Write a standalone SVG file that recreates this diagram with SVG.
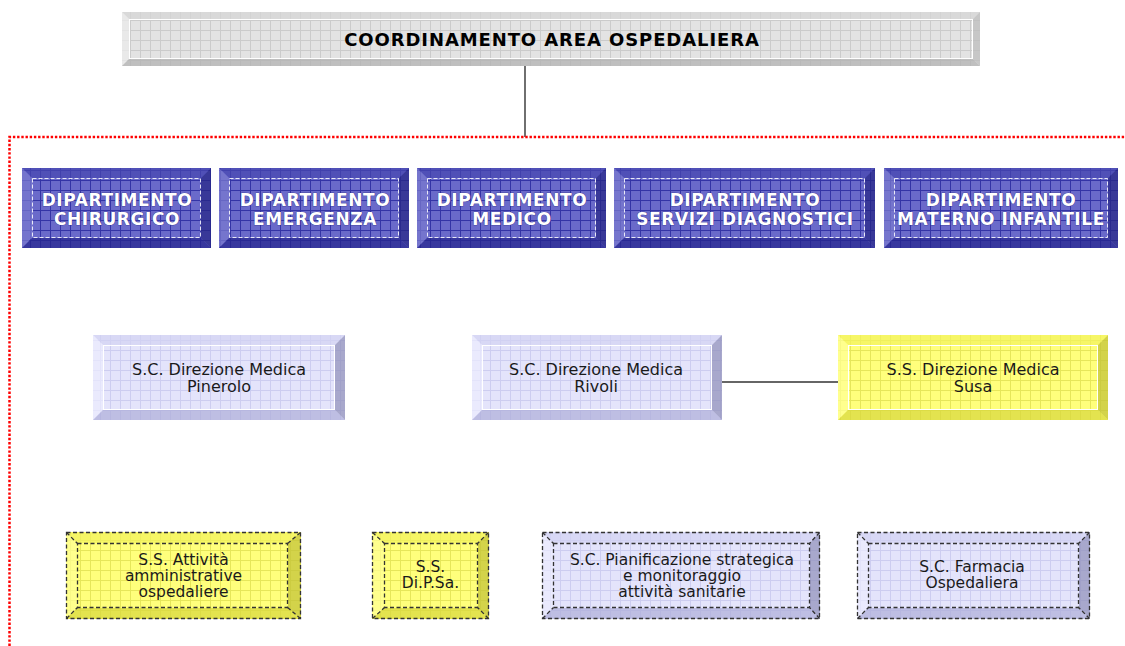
<svg xmlns="http://www.w3.org/2000/svg" width="1125" height="646" viewBox="0 0 1125 646">
<defs>
<pattern id="gGray" width="10" height="10" patternUnits="userSpaceOnUse"><rect width="10" height="10" fill="#e3e3e3"/><path d="M0 0.5H10M0.5 0V10" stroke="#cbcbcb" stroke-width="1"/></pattern>
<pattern id="gBlue" width="10" height="10" patternUnits="userSpaceOnUse"><rect width="10" height="10" fill="#6a6aca"/><path d="M0 0.5H10M0.5 0V10" stroke="#3434a6" stroke-width="1"/></pattern>
<pattern id="gLav" width="10" height="10" patternUnits="userSpaceOnUse"><rect width="10" height="10" fill="#e4e4fb"/><path d="M0 0.5H10M0.5 0V10" stroke="#cdcdf0" stroke-width="1"/></pattern>
<pattern id="gYel" width="10" height="10" patternUnits="userSpaceOnUse"><rect width="10" height="10" fill="#ffff7c"/><path d="M0 0.5H10M0.5 0V10" stroke="#e6e65a" stroke-width="1"/></pattern>
</defs>
<style>
.gray{fill:url(#gGray)} .blue{fill:url(#gBlue)} .lav{fill:url(#gLav)} .yel{fill:url(#gYel)}
.bv{opacity:0.72}
.gT{fill:#d6d6d6}.gL{fill:#ececec}.gB{fill:#b2b2b2}.gR{fill:#bcbcbc}
.bT{fill:#4646b0}.bL{fill:#7a7acf}.bB{fill:#24248e}.bR{fill:#262685}
.lT{fill:#d2d2f3}.lL{fill:#ececfd}.lB{fill:#afafd9}.lR{fill:#9090ba}
.yT{fill:#f2f25e}.yL{fill:#ffff96}.yB{fill:#d8d83e}.yR{fill:#c2c238}
.hl{fill:none;stroke:#ffffff;stroke-width:1}
.wd{fill:none;stroke:#ffffff;stroke-width:1;stroke-dasharray:4 2;opacity:0.85}
.dd{fill:none;stroke:#333333;stroke-width:1.3;stroke-dasharray:4 2.5}
.t{font-family:"DejaVu Sans","Liberation Sans",sans-serif;font-size:16px;fill:#1a1a1a;text-anchor:middle}
.ts{font-size:15.5px}
.dt{font-family:"DejaVu Sans","Liberation Sans",sans-serif;font-size:17px;font-weight:bold;fill:#ffffff;text-anchor:middle;letter-spacing:0.6px;stroke:#22227a;stroke-width:0.6;paint-order:stroke}
.tt{font-family:"DejaVu Sans","Liberation Sans",sans-serif;font-size:18px;font-weight:bold;fill:#000000;text-anchor:middle;letter-spacing:0.9px}
.conn{fill:none;stroke:#333333;stroke-width:1.4}
.red{fill:none;stroke:#ff0000;stroke-width:2.5;stroke-dasharray:2.4 1.8}
</style>
<rect width="1125" height="646" fill="#ffffff"/>

<g id="connectors">
<path class="conn" d="M525 66V137"/>
<path class="conn" d="M722 382H838"/>
<path class="red" d="M9.5 646V137H1125"/>
</g>

<g id="coordinamento">
<rect class="gray" x="122" y="12" width="858" height="54"/>
<polygon class="bv gT" points="122,12 980,12 973,19 129,19"/>
<polygon class="bv gL" points="122,12 129,19 129,59 122,66"/>
<polygon class="bv gB" points="122,66 129,59 973,59 980,66"/>
<polygon class="bv gR" points="980,12 980,66 973,59 973,19"/>
<rect class="hl" x="129.5" y="19.5" width="843" height="39"/>
<text class="tt" x="552" y="46">COORDINAMENTO AREA OSPEDALIERA</text>
</g>

<g id="dip-chirurgico">
<rect class="blue" x="22" y="168" width="189" height="80"/>
<polygon class="bv bT" points="22,168 211,168 201,178 32,178"/>
<polygon class="bv bL" points="22,168 32,178 32,238 22,248"/>
<polygon class="bv bB" points="22,248 32,238 201,238 211,248"/>
<polygon class="bv bR" points="211,168 211,248 201,238 201,178"/>
<rect class="wd" x="32.5" y="178.5" width="168" height="59"/>
<text class="dt" x="117" y="206">DIPARTIMENTO</text>
<text class="dt" x="117" y="225">CHIRURGICO</text>
</g>

<g id="dip-emergenza">
<rect class="blue" x="219" y="168" width="190" height="80"/>
<polygon class="bv bT" points="219,168 409,168 399,178 229,178"/>
<polygon class="bv bL" points="219,168 229,178 229,238 219,248"/>
<polygon class="bv bB" points="219,248 229,238 399,238 409,248"/>
<polygon class="bv bR" points="409,168 409,248 399,238 399,178"/>
<rect class="wd" x="229.5" y="178.5" width="169" height="59"/>
<text class="dt" x="315" y="206">DIPARTIMENTO</text>
<text class="dt" x="315" y="225">EMERGENZA</text>
</g>

<g id="dip-medico">
<rect class="blue" x="417" y="168" width="189" height="80"/>
<polygon class="bv bT" points="417,168 606,168 596,178 427,178"/>
<polygon class="bv bL" points="417,168 427,178 427,238 417,248"/>
<polygon class="bv bB" points="417,248 427,238 596,238 606,248"/>
<polygon class="bv bR" points="606,168 606,248 596,238 596,178"/>
<rect class="wd" x="427.5" y="178.5" width="168" height="59"/>
<text class="dt" x="512" y="206">DIPARTIMENTO</text>
<text class="dt" x="512" y="225">MEDICO</text>
</g>

<g id="dip-servizi">
<rect class="blue" x="614" y="168" width="261" height="80"/>
<polygon class="bv bT" points="614,168 875,168 865,178 624,178"/>
<polygon class="bv bL" points="614,168 624,178 624,238 614,248"/>
<polygon class="bv bB" points="614,248 624,238 865,238 875,248"/>
<polygon class="bv bR" points="875,168 875,248 865,238 865,178"/>
<rect class="wd" x="624.5" y="178.5" width="240" height="59"/>
<text class="dt" x="745" y="206">DIPARTIMENTO</text>
<text class="dt" x="745" y="225">SERVIZI DIAGNOSTICI</text>
</g>

<g id="dip-materno">
<rect class="blue" x="884" y="168" width="234" height="80"/>
<polygon class="bv bT" points="884,168 1118,168 1108,178 894,178"/>
<polygon class="bv bL" points="884,168 894,178 894,238 884,248"/>
<polygon class="bv bB" points="884,248 894,238 1108,238 1118,248"/>
<polygon class="bv bR" points="1118,168 1118,248 1108,238 1108,178"/>
<rect class="wd" x="894.5" y="178.5" width="213" height="59"/>
<text class="dt" x="1001" y="206">DIPARTIMENTO</text>
<text class="dt" x="1001" y="225">MATERNO INFANTILE</text>
</g>

<g id="dm-pinerolo">
<rect class="lav" x="93" y="335" width="252" height="85"/>
<polygon class="bv lT" points="93,335 345,335 335,345 103,345"/>
<polygon class="bv lL" points="93,335 103,345 103,410 93,420"/>
<polygon class="bv lB" points="93,420 103,410 335,410 345,420"/>
<polygon class="bv lR" points="345,335 345,420 335,410 335,345"/>
<rect class="hl" x="103.5" y="345.5" width="231" height="64"/>
<text class="t" x="219" y="375">S.C. Direzione Medica</text>
<text class="t" x="219" y="392">Pinerolo</text>
</g>

<g id="dm-rivoli">
<rect class="lav" x="472" y="335" width="250" height="85"/>
<polygon class="bv lT" points="472,335 722,335 712,345 482,345"/>
<polygon class="bv lL" points="472,335 482,345 482,410 472,420"/>
<polygon class="bv lB" points="472,420 482,410 712,410 722,420"/>
<polygon class="bv lR" points="722,335 722,420 712,410 712,345"/>
<rect class="hl" x="482.5" y="345.5" width="229" height="64"/>
<text class="t" x="596" y="375">S.C. Direzione Medica</text>
<text class="t" x="596" y="392">Rivoli</text>
</g>

<g id="dm-susa">
<rect class="yel" x="838" y="335" width="270" height="85"/>
<polygon class="bv yT" points="838,335 1108,335 1098,345 848,345"/>
<polygon class="bv yL" points="838,335 848,345 848,410 838,420"/>
<polygon class="bv yB" points="838,420 848,410 1098,410 1108,420"/>
<polygon class="bv yR" points="1108,335 1108,420 1098,410 1098,345"/>
<rect class="hl" x="848.5" y="345.5" width="249" height="64"/>
<text class="t" x="973" y="375">S.S. Direzione Medica</text>
<text class="t" x="973" y="392">Susa</text>
</g>

<g id="ss-attivita">
<rect class="yel" x="66" y="532" width="235" height="87"/>
<polygon class="bv yT" points="66,532 301,532 288,543 77,543"/>
<polygon class="bv yL" points="66,532 77,543 77,608 66,619"/>
<polygon class="bv yB" points="66,619 77,608 288,608 301,619"/>
<polygon class="bv yR" points="301,532 301,619 288,608 288,543"/>
<rect class="dd" x="66.5" y="532.5" width="234" height="86"/>
<rect class="dd" x="77.5" y="543.5" width="210" height="64"/>
<path class="dd" d="M66.5 532.5L77.5 543.5M300.5 532.5L287.5 543.5M66.5 618.5L77.5 607.5M300.5 618.5L287.5 607.5"/>
<text class="t ts" x="183.5" y="565">S.S. Attività</text>
<text class="t ts" x="183.5" y="581">amministrative</text>
<text class="t ts" x="183.5" y="597">ospedaliere</text>
</g>

<g id="ss-dipsa">
<rect class="yel" x="372" y="532" width="117" height="87"/>
<polygon class="bv yT" points="372,532 489,532 478,543 384,543"/>
<polygon class="bv yL" points="372,532 384,543 384,608 372,619"/>
<polygon class="bv yB" points="372,619 384,608 478,608 489,619"/>
<polygon class="bv yR" points="489,532 489,619 478,608 478,543"/>
<rect class="dd" x="372.5" y="532.5" width="116" height="86"/>
<rect class="dd" x="384.5" y="543.5" width="93" height="64"/>
<path class="dd" d="M372.5 532.5L384.5 543.5M488.5 532.5L477.5 543.5M372.5 618.5L384.5 607.5M488.5 618.5L477.5 607.5"/>
<text class="t ts" x="430.5" y="572">S.S.</text>
<text class="t ts" x="430.5" y="588">Di.P.Sa.</text>
</g>

<g id="sc-pianificazione">
<rect class="lav" x="542" y="532" width="278" height="87"/>
<polygon class="bv lT" points="542,532 820,532 810,543 553,543"/>
<polygon class="bv lL" points="542,532 553,543 553,608 542,619"/>
<polygon class="bv lB" points="542,619 553,608 810,608 820,619"/>
<polygon class="bv lR" points="820,532 820,619 810,608 810,543"/>
<rect class="dd" x="542.5" y="532.5" width="277" height="86"/>
<rect class="dd" x="553.5" y="543.5" width="256" height="64"/>
<path class="dd" d="M542.5 532.5L553.5 543.5M819.5 532.5L809.5 543.5M542.5 618.5L553.5 607.5M819.5 618.5L809.5 607.5"/>
<text class="t ts" x="682" y="565">S.C. Pianificazione strategica</text>
<text class="t ts" x="682" y="581">e monitoraggio</text>
<text class="t ts" x="682" y="597">attività sanitarie</text>
</g>

<g id="sc-farmacia">
<rect class="lav" x="857" y="532" width="233" height="87"/>
<polygon class="bv lT" points="857,532 1090,532 1079,543 868,543"/>
<polygon class="bv lL" points="857,532 868,543 868,608 857,619"/>
<polygon class="bv lB" points="857,619 868,608 1079,608 1090,619"/>
<polygon class="bv lR" points="1090,532 1090,619 1079,608 1079,543"/>
<rect class="dd" x="857.5" y="532.5" width="232" height="86"/>
<rect class="dd" x="868.5" y="543.5" width="210" height="64"/>
<path class="dd" d="M857.5 532.5L868.5 543.5M1089.5 532.5L1078.5 543.5M857.5 618.5L868.5 607.5M1089.5 618.5L1078.5 607.5"/>
<text class="t ts" x="972" y="572">S.C. Farmacia</text>
<text class="t ts" x="972" y="588">Ospedaliera</text>
</g>
</svg>
